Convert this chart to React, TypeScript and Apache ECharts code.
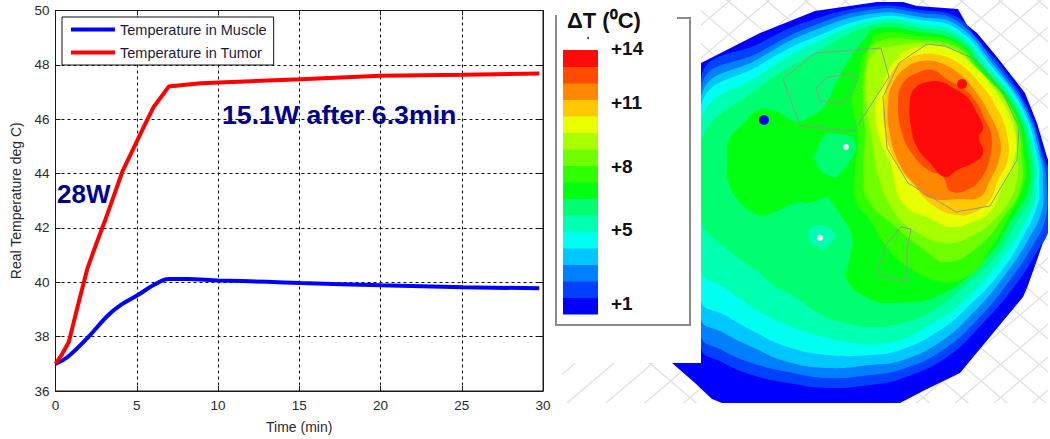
import React, { useEffect, useRef } from "react";
import * as echarts from "echarts";

// ---- line chart data (time in min, temperature in deg C)
const tumorTime = [0, 0.4, 0.82, 1.4, 1.96, 2.5, 3.09, 3.6, 4.1, 4.94, 5.5, 6.05, 6.97, 8, 8.95, 12, 15.1, 20, 25.1, 29.77];
const tumorTemp = [37, 37.35, 37.8, 39.2, 40.5, 41.4, 42.34, 43.2, 44.05, 45.1, 45.8, 46.46, 47.2, 47.27, 47.32, 47.4, 47.47, 47.6, 47.64, 47.68];
const muscleTime = [0, 0.72, 1.96, 3.19, 4, 5.04, 6.07, 6.97, 8.1, 9.98, 13, 15.1, 20, 25.1, 29.77];
const muscleTemp = [37, 37.24, 37.95, 38.76, 39.16, 39.52, 39.91, 40.12, 40.12, 40.07, 40.02, 39.97, 39.89, 39.82, 39.78];

// ---- temperature scale
const bandColors = ["#0000ff", "#0040ff", "#0080ff", "#00c8ff", "#00fff0", "#00ffb0", "#00ff70", "#00ff10", "#30ff00", "#70ff00", "#a8ff00", "#e8ff00", "#ffc800", "#ff8800", "#ff4c00", "#ff0a0a"];
const scaleLabels = ["+14", "+11", "+8", "+5", "+1"];

// ---- map contours, outer to inner, in map coordinates
const level0 = [[672, 363], [701, 363], [701, 63], [760, 33], [815, 11], [877, 2], [903, 2], [917, 6], [958, 9], [967, 25], [977, 33], [997, 57], [1025, 93], [1037, 123], [1047, 157], [1060, 190], [1048, 228], [1037, 260], [1027, 288], [1023, 297], [960, 373], [925, 390], [900, 403], [722, 403], [712, 399], [695, 383]];
const level1 = [[701, 78], [760, 43], [815, 19], [877, 6], [920, 10], [957, 17], [980, 43], [1002, 67], [1030, 113], [1045, 160], [1060, 190], [1048, 233], [1038, 250], [1017, 283], [983, 323], [947, 357], [903, 378], [870, 385], [828, 388], [788, 383], [752, 375], [722, 362], [701, 347]];
const level2 = [[701, 87], [760, 52], [815, 25], [877, 9], [920, 13], [957, 21], [998, 67], [1027, 110], [1043, 160], [1047, 190], [1045, 220], [1033, 245], [1010, 280], [977, 320], [943, 350], [903, 369], [870, 375], [828, 378], [788, 372], [752, 363], [722, 350], [701, 335]];
const level3 = [[701, 97], [760, 58], [815, 30], [877, 13], [920, 17], [957, 25], [995, 67], [1025, 110], [1041, 160], [1043, 185], [1042, 210], [1028, 240], [1005, 275], [973, 313], [940, 342], [903, 360], [870, 365], [828, 368], [788, 362], [752, 347], [722, 332], [701, 318]];
const level4 = [[701, 106], [760, 65], [815, 37], [877, 17], [920, 20], [957, 29], [992, 67], [1023, 110], [1038, 160], [1039, 185], [1038, 203], [1025, 233], [1002, 270], [970, 305], [937, 332], [900, 350], [870, 355], [828, 355], [788, 347], [755, 332], [725, 315], [701, 300]];
const level5 = [[701, 120], [760, 75], [815, 43], [877, 20], [920, 24], [957, 33], [988, 67], [1020, 110], [1036, 160], [1036, 185], [1035, 200], [1022, 228], [998, 263], [967, 298], [933, 323], [900, 340], [870, 344], [855, 343], [828, 338], [795, 328], [762, 313], [725, 288], [701, 270]];
const level6 = [[701, 140], [760, 87], [815, 53], [877, 24], [920, 28], [957, 37], [985, 67], [1018, 110], [1033, 160], [1033, 185], [1030, 200], [1018, 220], [995, 257], [960, 290], [930, 312], [903, 323], [870, 327], [845, 323], [822, 315], [795, 297], [778, 288], [758, 272], [728, 250], [701, 220]];
const level7 = [[727, 163], [729, 140], [745, 122], [758, 110], [775, 111], [795, 121], [810, 117], [825, 105], [835, 85], [850, 58], [862, 42], [877, 28], [920, 32], [957, 41], [982, 67], [1016, 110], [1029, 160], [1028, 190], [1013, 217], [987, 257], [940, 295], [893, 303], [870, 299], [847, 280], [850, 257], [852, 237], [842, 217], [830, 200], [828, 197], [808, 203], [798, 202], [772, 213], [758, 215], [738, 200], [728, 180]];
const level8 = [[852, 100], [858, 80], [862, 57], [868, 50], [877, 34], [920, 36], [957, 43], [978, 67], [1013, 110], [1025, 160], [1024, 185], [1010, 215], [990, 250], [970, 275], [942, 282], [905, 265], [885, 245], [870, 220], [855, 200], [855, 170], [858, 135]];
const level9 = [[863, 107], [865, 67], [875, 43], [920, 40], [957, 47], [976, 67], [1012, 110], [1022, 160], [1020, 190], [1005, 215], [980, 245], [947, 262], [920, 247], [897, 228], [868, 200], [863, 170], [865, 133]];
const level10 = [[867, 110], [867, 67], [877, 50], [890, 47], [920, 43], [957, 50], [974, 67], [1010, 110], [1018, 160], [1016, 185], [1010, 200], [997, 217], [977, 233], [947, 243], [913, 230], [893, 210], [878, 175], [872, 140]];
const level11 = [[875, 110], [880, 90], [898, 57], [920, 47], [947, 48], [973, 65], [997, 93], [1015, 133], [1013, 163], [1002, 187], [990, 212], [970, 223], [950, 227], [933, 220], [903, 203], [890, 163], [880, 140]];
const level12 = [[885, 95], [892, 72], [905, 60], [923, 54], [940, 55], [957, 62], [977, 80], [998, 110], [1008, 140], [1007, 163], [998, 180], [990, 200], [975, 212], [957, 215], [935, 207], [913, 185], [895, 160], [884, 125]];
const level13 = [[888, 103], [893, 83], [907, 67], [923, 61], [940, 63], [957, 72], [973, 88], [990, 115], [1000, 140], [999, 160], [990, 180], [980, 197], [960, 199], [930, 198], [915, 185], [900, 165], [890, 135]];
const level14 = [[898, 100], [903, 83], [917, 73], [933, 70], [948, 80], [963, 88], [977, 103], [985, 120], [991, 133], [990, 157], [982, 177], [967, 190], [950, 191], [943, 177], [928, 170], [913, 155], [902, 133]];
const level15 = [[910, 100], [915, 88], [927, 82], [942, 82], [953, 88], [967, 97], [977, 113], [983, 128], [979, 137], [983, 153], [973, 163], [957, 170], [945, 177], [930, 163], [917, 147], [911, 127]];
const contours = [level0, level1, level2, level3, level4, level5, level6, level7, level8, level9, level10, level11, level12, level13, level14, level15];
const islandNearDotA = [[814, 158], [823, 137], [828, 133], [852, 137], [856, 150], [837, 177], [823, 173]];
const islandNearDotB = [[809, 228], [820, 225], [832, 230], [835, 238], [823, 249], [810, 242]];

// ---- grey region outlines
const outlineA = [[783, 79], [815, 53], [881, 48], [889, 77], [854, 131], [800, 126]];
const outlineB = [[816, 88], [828, 77], [853, 74], [856, 85], [843, 104], [820, 101]];
const outlineC = [[883, 97], [899, 63], [927, 44], [945, 46], [977, 60], [1003, 93], [1019, 127], [1017, 160], [990, 206], [956, 212], [908, 183], [887, 148]];
const outlineD = [[901, 227], [911, 229], [907, 250], [907, 282], [877, 274], [884, 247]];
const outlines = [outlineA, outlineB, outlineC, outlineD];

// ---- probes
const probes = [
  { at: [764, 120], color: "#0000e6", size: 10 },
  { at: [962, 84], color: "#ff0a0a", size: 10 },
  { at: [846, 147], color: "#ffffff", size: 6 },
  { at: [820, 238], color: "#ffffff", size: 6 },
];

// ---- background mesh line intercepts
const meshSlash = [-40, -7, 26, 59, 92, 125, 158, 191, 224, 257, 290, 323, 356, 389, 422, 455, 488, 521, 554, 587, 620, 653, 686];
const meshBackslash = [-320, -287, -254, -221, -188, -155, -122, -89, -56, -23, 10, 43, 76, 109, 142, 175, 208, 241, 274, 307, 340, 373, 406];

const FONT = "'Liberation Sans', Arial, sans-serif";

export default function App() {
  const ref = useRef<HTMLDivElement>(null);
  useEffect(() => {
    const chart = echarts.init(ref.current!, null, { renderer: "svg" });

    const contourSeries = (gridIdx: number, smooth: number) => ({
      type: "custom",
      coordinateSystem: "cartesian2d",
      xAxisIndex: gridIdx,
      yAxisIndex: gridIdx,
      clip: true,
      silent: true,
      data: contours.map((_, i) => [i]),
      renderItem: (_p: any, api: any) => {
        const i = api.value(0);
        return {
          type: "polygon",
          shape: { points: contours[i].map((p) => api.coord(p)), smooth: i === 0 ? 0 : smooth },
          style: { fill: bandColors[i] },
        };
      },
    });

    const meshSeries = (gridIdx: number) => ({
      type: "custom",
      coordinateSystem: "cartesian2d",
      xAxisIndex: gridIdx,
      yAxisIndex: gridIdx,
      clip: true,
      silent: true,
      data: [...meshSlash.map((c) => [c, -1]), ...meshBackslash.map((c) => [c, 1])],
      renderItem: (_p: any, api: any) => {
        const c = api.value(0);
        const dir = api.value(1);
        const a = api.coord([560, c + dir * 0.85 * (560 - 700)]);
        const b = api.coord([1050, c + dir * 0.85 * (1050 - 700)]);
        return {
          type: "line",
          shape: { x1: a[0], y1: a[1], x2: b[0], y2: b[1] },
          style: { stroke: "#e2e2e2", lineWidth: 1.4 },
        };
      },
    });

    const hiddenX = (gridIndex: number, min: number, max: number) => ({ type: "value", gridIndex, min, max, show: false });
    const hiddenY = (gridIndex: number, min: number, max: number, inverse = true) => ({ type: "value", gridIndex, min, max, inverse, show: false });

    const labelStyle = { color: "#2a2a2a", fontSize: 13.5, fontFamily: FONT };
    const scaleY = [48, 102, 166, 229, 303];
    const tickStyle = { show: true, inside: true, length: 5, lineStyle: { color: "#1a1a1a" } };

    chart.setOption({
      animation: false,
      backgroundColor: "#ffffff",
      textStyle: { fontFamily: FONT },
      grid: [
        { left: 55.5, top: 10.5, width: 487.5, height: 383.5, show: true, borderColor: "#1a1a1a", borderWidth: 1, backgroundColor: "transparent" },
        { left: 701, top: 0, width: 347, height: 403 },
        { left: 562, top: 363, width: 139, height: 40 },
        { left: 563, top: 50, width: 35, height: 264 },
      ],
      xAxis: [
        {
          type: "value", gridIndex: 0, min: 0, max: 30, interval: 5,
          name: "Time (min)", nameLocation: "middle", nameGap: 29, nameTextStyle: { ...labelStyle, fontSize: 14 },
          axisLine: { show: true, lineStyle: { color: "#1a1a1a" } },
          axisTick: tickStyle,
          axisLabel: { ...labelStyle, margin: 7 },
          splitLine: { show: true, lineStyle: { color: "#111", type: [3, 3], width: 1 } },
        },
        hiddenX(1, 701, 1048),
        hiddenX(2, 562, 701),
        hiddenX(3, 0, 1),
        {
          type: "value", gridIndex: 0, position: "top", min: 0, max: 30, interval: 5,
          axisLine: { show: true, onZero: false, lineStyle: { color: "#1a1a1a" } }, axisTick: tickStyle, axisLabel: { show: false }, splitLine: { show: false },
        },
      ],
      yAxis: [
        {
          type: "value", gridIndex: 0, min: 36, max: 50, interval: 2,
          name: "Real Temperature deg C)", nameLocation: "middle", nameGap: 33, nameTextStyle: { ...labelStyle, fontSize: 14 },
          axisLine: { show: true, lineStyle: { color: "#1a1a1a" } },
          axisTick: tickStyle,
          axisLabel: { ...labelStyle, margin: 6 },
          splitLine: { show: true, lineStyle: { color: "#111", type: [3, 3], width: 1 } },
        },
        hiddenY(1, 0, 403),
        hiddenY(2, 363, 403),
        hiddenY(3, 0, 16, false),
        {
          type: "value", gridIndex: 0, position: "right", min: 36, max: 50, interval: 2,
          axisLine: { show: true, onZero: false, lineStyle: { color: "#1a1a1a" } }, axisTick: tickStyle, axisLabel: { show: false }, splitLine: { show: false },
        },
      ],
      legend: {
        data: ["Temperature in Muscle", "Temperature in Tumor"],
        orient: "vertical",
        left: 62,
        top: 17,
        padding: [5, 7, 5, 9],
        icon: "rect",
        itemWidth: 44,
        itemHeight: 4,
        itemGap: 8,
        backgroundColor: "#ffffff",
        borderColor: "#111",
        borderWidth: 1,
        borderRadius: 0,
        selectedMode: false,
        textStyle: { color: "#1c1c3a", fontSize: 14.5, fontFamily: FONT },
      },
      series: [
        {
          name: "Temperature in Muscle", type: "line", xAxisIndex: 0, yAxisIndex: 0, showSymbol: false, symbol: "none", z: 3,
          smooth: 0.35,
          itemStyle: { color: "#0000ff" }, lineStyle: { color: "#0000ff", width: 4 },
          data: muscleTime.map((t, i) => [t, muscleTemp[i]]),
        },
        {
          name: "Temperature in Tumor", type: "line", xAxisIndex: 0, yAxisIndex: 0, showSymbol: false, symbol: "none", z: 3,
          itemStyle: { color: "#ff0000" }, lineStyle: { color: "#ff0000", width: 4 },
          data: tumorTime.map((t, i) => [t, tumorTemp[i]]),
        },
        meshSeries(1),
        meshSeries(2),
        contourSeries(1, 0.45),
        contourSeries(2, 0),
        {
          type: "custom", coordinateSystem: "cartesian2d", xAxisIndex: 1, yAxisIndex: 1, clip: true, silent: true,
          data: [[0], [1]],
          renderItem: (_p: any, api: any) => {
            const i = api.value(0);
            const pts = i === 0 ? islandNearDotA : islandNearDotB;
            return { type: "polygon", shape: { points: pts.map((p) => api.coord(p)), smooth: 0.2 }, style: { fill: i === 0 ? bandColors[6] : bandColors[5] } };
          },
        },
        {
          type: "custom", coordinateSystem: "cartesian2d", xAxisIndex: 1, yAxisIndex: 1, clip: true, silent: true,
          data: outlines.map((_, i) => [i]),
          renderItem: (_p: any, api: any) => {
            const pts = outlines[api.value(0)];
            return { type: "polygon", shape: { points: pts.map((p) => api.coord(p)) }, style: { fill: "none", stroke: "#8f9a8f", lineWidth: 1 } };
          },
        },
        {
          type: "scatter", xAxisIndex: 1, yAxisIndex: 1, silent: true, symbol: "circle",
          data: probes.map((p) => ({ value: p.at, symbolSize: p.size, itemStyle: { color: p.color, opacity: 1 } })),
        },
        {
          type: "custom", coordinateSystem: "cartesian2d", xAxisIndex: 3, yAxisIndex: 3, silent: true,
          data: bandColors.map((_, i) => [i]),
          renderItem: (_p: any, api: any) => {
            const i = api.value(0);
            const a = api.coord([0, i + 1]);
            const b = api.coord([1, i]);
            return { type: "rect", shape: { x: a[0], y: a[1], width: b[0] - a[0], height: b[1] - a[1] + 0.5 }, style: { fill: bandColors[i] } };
          },
        },
      ],
      graphic: [
        { type: "text", x: 57, y: 194, z: 10, style: { text: "28W", font: `bold 26px ${FONT}`, fill: "#00008f", verticalAlign: "middle" } },
        { type: "text", x: 222, y: 115, z: 10, style: { text: "15.1W after 6.3min", font: `bold 26.7px ${FONT}`, fill: "#00008f", verticalAlign: "middle" } },
        { type: "polyline", z: 5, shape: { points: [[677, 18], [690, 18], [690, 325], [556, 325], [556, 15]] }, style: { stroke: "#8a8a8a", lineWidth: 2, fill: "none" } },
        { type: "text", x: 567, y: 20, z: 10, style: { text: "ΔT (⁰C)", font: `bold 22px ${FONT}`, fill: "#111", verticalAlign: "middle" } },
        { type: "circle", z: 5, shape: { cx: 588, cy: 38, r: 1 }, style: { fill: "#333" } },
        ...scaleLabels.map((t, i) => ({ type: "text", x: 611, y: scaleY[i], z: 10, style: { text: t, font: `bold 19px ${FONT}`, fill: "#111", verticalAlign: "middle" } })),
      ],
    });
    return () => chart.dispose();
  }, []);
  return <div ref={ref} style={{ position: "fixed", left: 0, top: 0, width: 1050, height: 439, background: "#fff" }} />;
}
